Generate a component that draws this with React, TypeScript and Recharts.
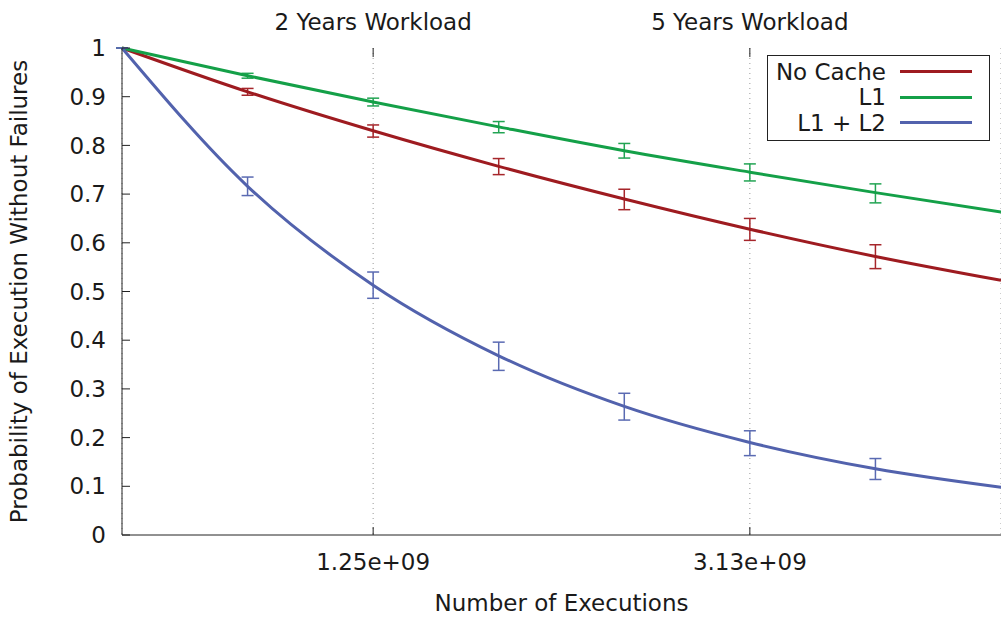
import { ComposedChart, Line, XAxis, YAxis, CartesianGrid, ErrorBar, Legend } from 'recharts';

// executions at each yearly checkpoint (6.25e8 per year)
const executions = [0, 6.25e8, 1.25e9, 1.875e9, 2.5e9, 3.125e9, 3.75e9, 4.375e9];

const noCache = [1, 0.91, 0.83, 0.757, 0.69, 0.628, 0.572, 0.523];
const noCacheLo = [1, 0.903, 0.817, 0.74, 0.668, 0.605, 0.547, null];
const noCacheHi = [1, 0.917, 0.842, 0.773, 0.71, 0.65, 0.596, null];

const l1 = [1, 0.943, 0.889, 0.838, 0.789, 0.745, 0.703, 0.663];
const l1Lo = [1, 0.938, 0.881, 0.826, 0.774, 0.727, 0.682, null];
const l1Hi = [1, 0.948, 0.897, 0.849, 0.804, 0.762, 0.721, null];

const l1l2 = [1, 0.716, 0.513, 0.368, 0.264, 0.19, 0.136, 0.098];
const l1l2Lo = [1, 0.697, 0.486, 0.338, 0.236, 0.163, 0.114, null];
const l1l2Hi = [1, 0.735, 0.54, 0.396, 0.291, 0.214, 0.157, null];

const seriesNames = ['No Cache', 'L1', 'L1 + L2'];

const xTicks = [1.25e9, 3.125e9];
const xTickLabels = ['1.25e+09', '3.13e+09'];
const topTickLabels = ['2 Years Workload', '5 Years Workload'];
const yTicks = [0, 0.1, 0.2, 0.3, 0.4, 0.5, 0.6, 0.7, 0.8, 0.9, 1];

const FONT = 'DejaVu Sans, sans-serif';
const TEXT = '#1a1a1a';
const FS = 23;

const err = (v: number, lo: number | null, hi: number | null) =>
  lo == null || hi == null ? null : [v - lo, hi - v];

const data = executions.map((x, i) => ({
  x,
  noCache: noCache[i],
  noCacheErr: err(noCache[i], noCacheLo[i], noCacheHi[i]),
  l1: l1[i],
  l1Err: err(l1[i], l1Lo[i], l1Hi[i]),
  l1l2: l1l2[i],
  l1l2Err: err(l1l2[i], l1l2Lo[i], l1l2Hi[i]),
}));

const LegendBox = ({ payload }: any) => {
  const items = [...(payload || [])].sort(
    (a: any, b: any) => seriesNames.indexOf(a.value) - seriesNames.indexOf(b.value)
  );
  return (
    <div
      style={{
        border: '1px solid #222',
        background: '#fff',
        padding: '3px 0 4px 0',
        fontFamily: FONT,
        fontSize: FS,
        color: TEXT,
      }}
    >
      {items.map((p: any) => (
        <div key={p.value} style={{ display: 'flex', alignItems: 'center', height: 25.5 }}>
          <span style={{ width: 118, textAlign: 'right', whiteSpace: 'nowrap' }}>{p.value}</span>
          <span style={{ width: 72, height: 3, background: p.color, marginLeft: 14 }} />
        </div>
      ))}
    </div>
  );
};

export default function App() {
  return (
    <div style={{ position: 'absolute', left: 0, top: 0, background: '#fff' }}>
      <ComposedChart
        width={1001}
        height={617}
        data={data}
        margin={{ top: 0, right: 0, left: 0, bottom: 0 }}
        style={{ fontFamily: FONT }}
      >
        <CartesianGrid horizontal={false} stroke="#999" strokeDasharray="1 4" />
        <XAxis
          dataKey="x"
          type="number"
          domain={[0, 4.375e9]}
          ticks={xTicks}
          tickFormatter={(v) => xTickLabels[xTicks.indexOf(v)]}
          height={82}
          tickSize={-8}
          tickMargin={27}
          stroke="#222"
          tick={{ fill: TEXT, fontSize: FS }}
          label={{ value: 'Number of Executions', position: 'insideBottom', offset: 6, fill: TEXT, fontSize: FS }}
        />
        <XAxis
          xAxisId="top"
          dataKey="x"
          type="number"
          orientation="top"
          domain={[0, 4.375e9]}
          ticks={xTicks}
          tickFormatter={(v) => topTickLabels[xTicks.indexOf(v)]}
          height={48}
          axisLine={false}
          tickSize={-9}
          tickMargin={27}
          stroke="#222"
          tick={{ fill: TEXT, fontSize: FS }}
        />
        <YAxis
          type="number"
          domain={[0, 1]}
          ticks={yTicks}
          width={122}
          tickSize={-8}
          tickMargin={24}
          stroke="#222"
          tick={{ fill: TEXT, fontSize: FS }}
          label={({ viewBox }: any) => (
            <text
              x={27}
              y={viewBox.y + viewBox.height / 2}
              transform={`rotate(-90, 27, ${viewBox.y + viewBox.height / 2})`}
              textAnchor="middle"
              fill={TEXT}
              fontSize={FS}
              fontFamily={FONT}
            >
              Probability of Execution Without Failures
            </text>
          )}
        />
        <Legend
          layout="vertical"
          align="center"
          verticalAlign="middle"
          content={<LegendBox />}
          wrapperStyle={{ top: 55, left: 767, width: 223 }}
        />
        <Line
          name="No Cache"
          dataKey="noCache"
          type="monotone"
          stroke="#9e1b20"
          strokeWidth={3}
          dot={false}
          activeDot={false}
          isAnimationActive={false}
        >
          <ErrorBar dataKey="noCacheErr" direction="y" width={6} stroke="#a6262b" strokeWidth={1.5} isAnimationActive={false} />
        </Line>
        <Line
          name="L1"
          dataKey="l1"
          type="monotone"
          stroke="#14a048"
          strokeWidth={3}
          dot={false}
          activeDot={false}
          isAnimationActive={false}
        >
          <ErrorBar dataKey="l1Err" direction="y" width={6} stroke="#22a453" strokeWidth={1.5} isAnimationActive={false} />
        </Line>
        <Line
          name="L1 + L2"
          dataKey="l1l2"
          type="monotone"
          stroke="#5262ad"
          strokeWidth={3}
          dot={false}
          activeDot={false}
          isAnimationActive={false}
        >
          <ErrorBar dataKey="l1l2Err" direction="y" width={6} stroke="#5a6ab2" strokeWidth={1.5} isAnimationActive={false} />
        </Line>
      </ComposedChart>
    </div>
  );
}
